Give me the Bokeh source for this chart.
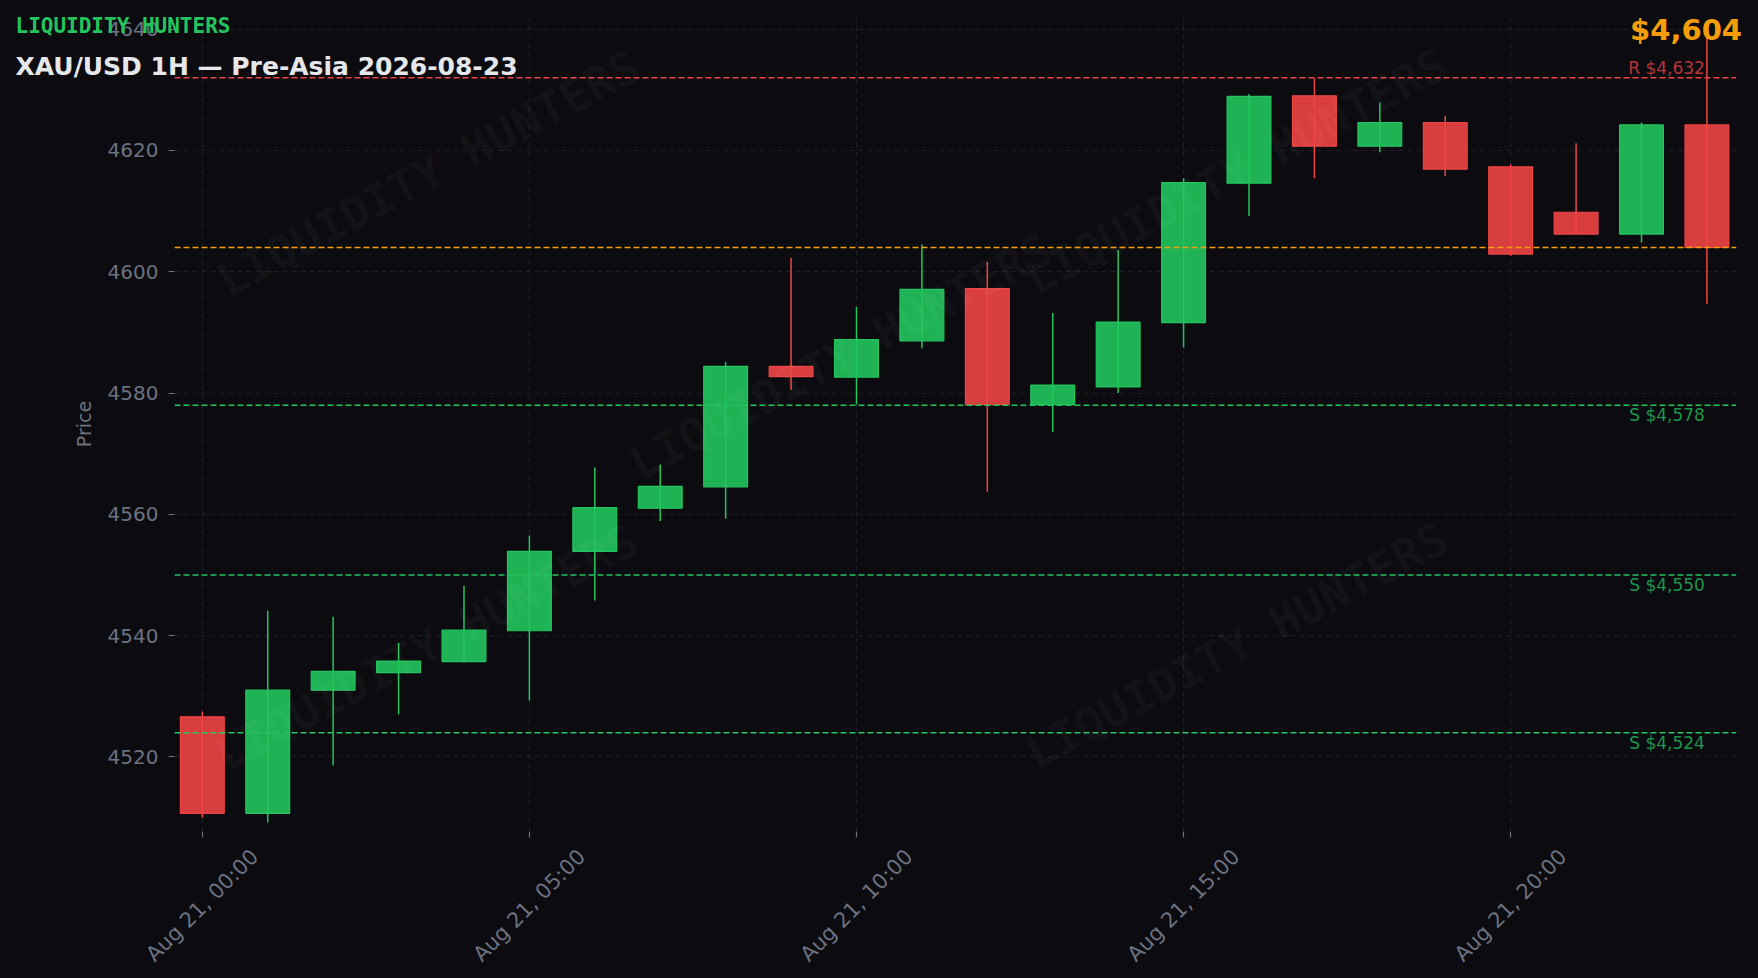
from bokeh.plotting import figure
from bokeh.models import ColumnDataSource, Span, Label, FixedTicker, Range1d
from bokeh.core.properties import value
from bokeh.embed import file_html
from bokeh.resources import INLINE

# ---------------- data ----------------
DAY = "Aug 21"
HOURS = list(range(24))
OPEN = [4526.6, 4510.7, 4531.0, 4533.9, 4535.7, 4540.8, 4553.9, 4561.0, 4564.5, 4584.4,
        4582.6, 4588.6, 4597.2, 4578.1, 4581.0, 4591.6, 4614.6, 4629.0, 4620.7, 4624.6,
        4617.3, 4609.8, 4606.2, 4624.2]
CLOSE = [4510.7, 4531.0, 4534.1, 4535.8, 4540.9, 4553.9, 4561.1, 4564.6, 4584.4, 4582.7,
         4588.8, 4597.1, 4578.1, 4581.3, 4591.7, 4614.7, 4628.9, 4620.7, 4624.6, 4616.9,
         4602.9, 4606.2, 4624.2, 4604.0]
HIGH = [4527.5, 4544.1, 4543.1, 4538.8, 4548.2, 4556.5, 4567.7, 4568.2, 4585.1, 4602.3,
        4594.2, 4604.5, 4601.6, 4593.2, 4603.6, 4615.4, 4629.3, 4631.9, 4627.9, 4625.7,
        4617.7, 4621.2, 4624.6, 4638.6]
LOW = [4510.0, 4509.2, 4518.6, 4527.0, 4535.6, 4529.3, 4545.8, 4558.9, 4559.3, 4580.5,
       4578.1, 4587.4, 4563.7, 4573.6, 4580.0, 4587.5, 4609.2, 4615.4, 4619.7, 4615.8,
       4602.6, 4606.2, 4604.8, 4594.7]
RESISTANCE = [4632]
SUPPORTS = [4578, 4550, 4524]
CURRENT = 4604
TICK_POS = [0, 5, 10, 15, 20]
TICK_LABELS = [f"{DAY}, {h:02d}:00" for h in TICK_POS]
TITLE = "XAU/USD 1H \u2014 Pre-Asia 2026-08-23"
BRAND = "LIQUIDITY HUNTERS"

# ---------------- styles ----------------
BG = "#0b0b10"
GRID = "#1e1f28"
AXIS_TXT = "#6b7280"
GREEN = "#22c55e"
RED = "#ef4444"
ORANGE = "#f59e0b"
FONT = "DejaVu Sans"
MONO = "DejaVu Sans Mono"

X0, X1 = -0.425, 23.452
Y0, Y1 = 4507.7, 4642.08

p = figure(width=1758, height=978,
           x_range=Range1d(X0, X1), y_range=Range1d(Y0, Y1),
           output_backend="svg", toolbar_location=None,
           min_border_left=174, min_border_right=22, min_border_top=16, min_border_bottom=147,
           background_fill_color=None, border_fill_color=BG, outline_line_color=None)

p.grid.grid_line_color = GRID
p.grid.grid_line_dash = "5 4"
p.grid.grid_line_width = 1

p.xaxis.ticker = FixedTicker(ticks=TICK_POS)
p.xaxis.major_label_text_color = None
p.yaxis.axis_label = "Price"
p.yaxis.axis_label_text_font = FONT
p.yaxis.axis_label_text_font_size = "19px"
p.yaxis.axis_label_text_font_style = "normal"
p.yaxis.axis_label_text_color = AXIS_TXT
p.yaxis.axis_label_standoff = 10
p.yaxis.major_label_standoff = 10
for ax in (p.xaxis, p.yaxis):
    ax.axis_line_color = None
    ax.major_tick_line_color = AXIS_TXT
    ax.major_tick_line_width = 1.2
    ax.major_tick_out = 6
    ax.major_tick_in = 0
    ax.minor_tick_line_color = None
    ax.major_label_text_font = FONT
    ax.major_label_text_font_size = "20px"
p.yaxis.major_label_text_color = AXIS_TXT

# ---------------- candles ----------------
colors = [GREEN if c >= o else RED for o, c in zip(OPEN, CLOSE)]
src = ColumnDataSource(dict(
    x=HOURS, open=OPEN, close=CLOSE, high=HIGH, low=LOW,
    top=[max(o, c) for o, c in zip(OPEN, CLOSE)],
    bottom=[min(o, c) for o, c in zip(OPEN, CLOSE)],
    color=colors))
p.segment(x0="x", y0="low", x1="x", y1="high", line_color="color", line_width=1.5, source=src)
p.vbar(x="x", width=0.67, top="top", bottom="bottom", fill_color="color", fill_alpha=0.9,
       line_color="color", line_width=1.2, source=src)

# ---------------- watermarks ----------------
WM_POS = [(254, 658), (666, 475), (1062, 660), (252, 184), (1062, 186)]
for sx, sy in WM_POS:
    p.add_layout(Label(x=sx, y=sy, x_units="screen", y_units="screen", text=BRAND,
                       angle=28, angle_units="deg", text_align="center", text_baseline="middle",
                       text_font=MONO, text_font_style="bold", text_font_size="46px",
                       text_color="#ffffff", text_alpha=0.045))

# ---------------- levels ----------------
last_x = HOURS[-1]
for lv in RESISTANCE:
    p.add_layout(Span(location=lv, dimension="width", line_color=RED, line_dash="6 3", line_width=1.5))
    p.add_layout(Label(x=last_x, y=lv, text=f"R ${lv:,.0f}", text_align="right", text_baseline="bottom",
                       x_offset=-2, text_font=FONT, text_font_size="17px", text_color=RED, text_alpha=0.75))
p.add_layout(Span(location=CURRENT, dimension="width", line_color=ORANGE, line_dash="6 3", line_width=1.5))
for lv in SUPPORTS:
    p.add_layout(Span(location=lv, dimension="width", line_color=GREEN, line_dash="6 3", line_width=1.5))
    p.add_layout(Label(x=last_x, y=lv, text=f"S ${lv:,.0f}", text_align="right", text_baseline="top",
                       x_offset=-2, text_font=FONT, text_font_size="17px", text_color=GREEN, text_alpha=0.75))

# ---------------- x tick labels (centered, rotated) ----------------
tick_src = ColumnDataSource(dict(x=TICK_POS, y=[Y0] * len(TICK_POS), text=TICK_LABELS))
p.text(x="x", y="y", text="text", source=tick_src, y_offset=74, angle=45, angle_units="deg",
       text_align="center", text_baseline="middle", text_font=value(FONT),
       text_font_size="21px", text_color=AXIS_TXT, level="annotation")

# ---------------- header texts ----------------
p.text(x=[X0], y=[Y1], text=[BRAND], x_offset=-159, y_offset=9.5, text_baseline="alphabetic",
       text_font=value(MONO), text_font_style="bold", text_font_size="21px", text_color=GREEN,
       level="annotation")
p.text(x=[X0], y=[Y1], text=[TITLE], x_offset=-159, y_offset=49.5, text_baseline="alphabetic",
       text_font=value(FONT), text_font_style="bold", text_font_size="25px", text_color="#e5e7eb",
       level="annotation")
p.text(x=[X1], y=[Y1], text=[f"${CURRENT:,.0f}"], x_offset=5.5, y_offset=13.3, text_align="right",
       text_baseline="alphabetic", text_font=value(FONT), text_font_style="bold",
       text_font_size="29px", text_color=ORANGE, level="annotation")

html = file_html(p, INLINE)
style = (f"<style>html,body{{margin:0 !important;padding:0 !important;"
         f"background:{BG} !important;overflow:hidden;}}</style>")
html = html.replace("</head>", style + "</head>", 1)
open("out.html", "w").write(html)
